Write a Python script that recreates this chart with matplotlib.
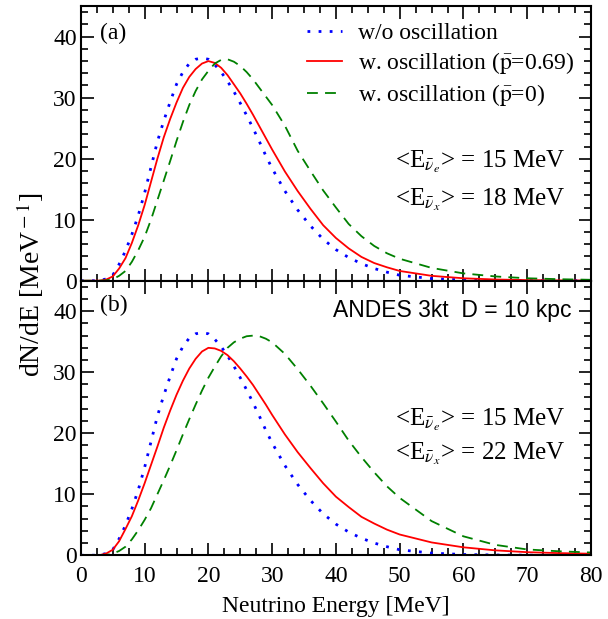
import numpy as np
import matplotlib
matplotlib.use('Agg')
import matplotlib.pyplot as plt
from matplotlib.ticker import MultipleLocator

# energy grid [MeV]
E = [0, 2, 3, 4, 5, 6, 7, 8, 9, 10, 11, 12, 13, 14, 15, 16, 17, 18, 19, 20,
     21, 22, 23, 24, 25, 26, 27, 28, 29, 30, 32, 34, 36, 38, 40, 42, 44, 46, 48, 50,
     55, 60, 65, 70, 75, 80]

# w/o oscillation (same in both panels)
no_osc = [0, 0, 0.05, 0.3, 0.9, 2.7, 4.9, 7.6, 10.7, 14.4, 18.6, 22.8, 26.2, 29.3, 32.2, 34.2, 35.6, 36.3, 36.5, 36.3,
          35.4, 34.2, 32.7, 31.0, 29.1, 27.1, 25.0, 22.8, 20.5, 18.4, 14.7, 11.6, 9.0, 6.8, 5.1, 3.8, 2.8, 2.0, 1.4, 0.9,
          0.35, 0.12, 0.04, 0.01, 0, 0]

# panel (a): <E_x> = 18 MeV
osc_a = [0, 0, 0.02, 0.2, 0.7, 2.0, 3.7, 6.2, 9.1, 12.4, 16.2, 20.0, 23.5, 26.5, 29.2, 31.6, 33.4, 34.7, 35.6, 36.0,
         35.7, 34.9, 33.7, 32.2, 30.7, 29.0, 27.2, 25.3, 23.4, 21.5, 17.9, 14.7, 11.8, 9.1, 7.0, 5.3, 3.9, 2.9, 2.2, 1.6,
         0.8, 0.4, 0.2, 0.1, 0.05, 0.03]
osc0_a = [0, 0, 0, 0.05, 0.25, 0.8, 1.6, 3.1, 5.0, 7.2, 10.0, 13.2, 16.4, 19.6, 22.9, 26.0, 28.8, 31.1, 33.0, 34.4,
          35.6, 36.2, 36.3, 35.9, 35.2, 34.2, 33.0, 31.6, 30.2, 28.8, 25.4, 21.3, 18.0, 14.8, 12.0, 9.3, 7.3, 5.7, 4.5, 3.6,
          2.1, 1.2, 0.7, 0.4, 0.25, 0.15]

# panel (b): <E_x> = 22 MeV
osc_b = [0, 0, 0.03, 0.3, 0.9, 2.3, 4.3, 6.4, 9.0, 11.8, 14.8, 17.8, 20.9, 23.7, 26.3, 28.6, 30.6, 32.2, 33.4, 34.0,
         33.9, 33.5, 32.8, 31.8, 30.6, 29.3, 27.9, 26.3, 24.7, 23.0, 19.8, 16.9, 14.3, 11.8, 9.6, 7.9, 6.3, 5.2, 4.2, 3.4,
         2.1, 1.3, 0.8, 0.5, 0.35, 0.25]
osc0_b = [0, 0, 0, 0.05, 0.25, 0.7, 1.4, 2.6, 4.1, 5.8, 7.7, 10.0, 12.3, 14.7, 17.2, 19.8, 22.3, 24.7, 27.0, 29.1,
          30.9, 32.6, 34.0, 34.9, 35.5, 35.9, 36.0, 35.9, 35.5, 34.9, 33.0, 30.5, 27.8, 24.9, 21.9, 18.8, 16.1, 13.6, 11.3, 9.4,
          5.6, 3.1, 1.7, 0.95, 0.65, 0.45]

labels = ['w/o oscillation', r'w. oscillation ($\bar{\rm p}$=0.69)', r'w. oscillation ($\bar{\rm p}$=0)']

plt.rcParams['font.family'] = ['Liberation Serif', 'DejaVu Serif']
plt.rcParams['mathtext.fontset'] = 'stix'

fig, (ax1, ax2) = plt.subplots(2, 1, sharex=True, figsize=(6.08, 6.19), dpi=100)
fig.subplots_adjust(left=0.133, right=0.972, top=0.990, bottom=0.103, hspace=0)

for ax, red, green in [(ax1, osc_a, osc0_a), (ax2, osc_b, osc0_b)]:
    ax.plot(E, no_osc, color='#0000ff', lw=2.0, ls=(0, (1, 3)), label=labels[0])
    ax.plot(E, red, color='#ff0000', lw=1.3, label=labels[1])
    ax.plot(E, green, color='#008000', lw=1.3, ls=(0, (6, 4)), label=labels[2])
    ax.set_xlim(0, 80)
    ax.set_ylim(0, 45)
    ax.xaxis.set_major_locator(MultipleLocator(10))
    ax.xaxis.set_minor_locator(MultipleLocator(2.5))
    ax.yaxis.set_major_locator(MultipleLocator(10))
    ax.yaxis.set_minor_locator(MultipleLocator(2))
    ax.tick_params(which='both', direction='in', top=True, right=True, width=1.2, labelsize=17)
    ax.tick_params(which='major', length=9, pad=3)
    ax.tick_params(which='minor', length=5)
    for s in ax.spines.values():
        s.set_linewidth(1.5)
ax2.tick_params(axis='x', which='major', pad=8)

ax1.legend(loc='upper left', bbox_to_anchor=(0.443, 0.94), frameon=False, fontsize=17,
           handlelength=1.5, handletextpad=0.65, labelspacing=0.25, borderaxespad=0, borderpad=0)

ax1.text(0.037, 0.90, '(a)', transform=ax1.transAxes, fontsize=17, va='center')
ax2.text(0.037, 0.91, '(b)', transform=ax2.transAxes, fontsize=17, va='center')
ax2.text(39.5, 39.0, 'ANDES 3kt  D = 10 kpc', family='Liberation Sans', fontsize=16.5)

ax1.text(49.3, 18.5, r'<E$_{\bar{\nu}_e}$> = 15 MeV', fontsize=18)
ax1.text(49.3, 12.3, r'<E$_{\bar{\nu}_x}$> = 18 MeV', fontsize=18)
ax2.text(49.3, 21.3, r'<E$_{\bar{\nu}_e}$> = 15 MeV', fontsize=18)
ax2.text(49.3, 15.7, r'<E$_{\bar{\nu}_x}$> = 22 MeV', fontsize=18)

ax2.set_xlabel('Neutrino Energy [MeV]', fontsize=17, labelpad=6)
fig.text(0.05, 0.54, r'dN/dE [MeV$^{\rm -1}$]', rotation=90, fontsize=20, ha='center', va='center')

plt.savefig('out.png', dpi=100)
